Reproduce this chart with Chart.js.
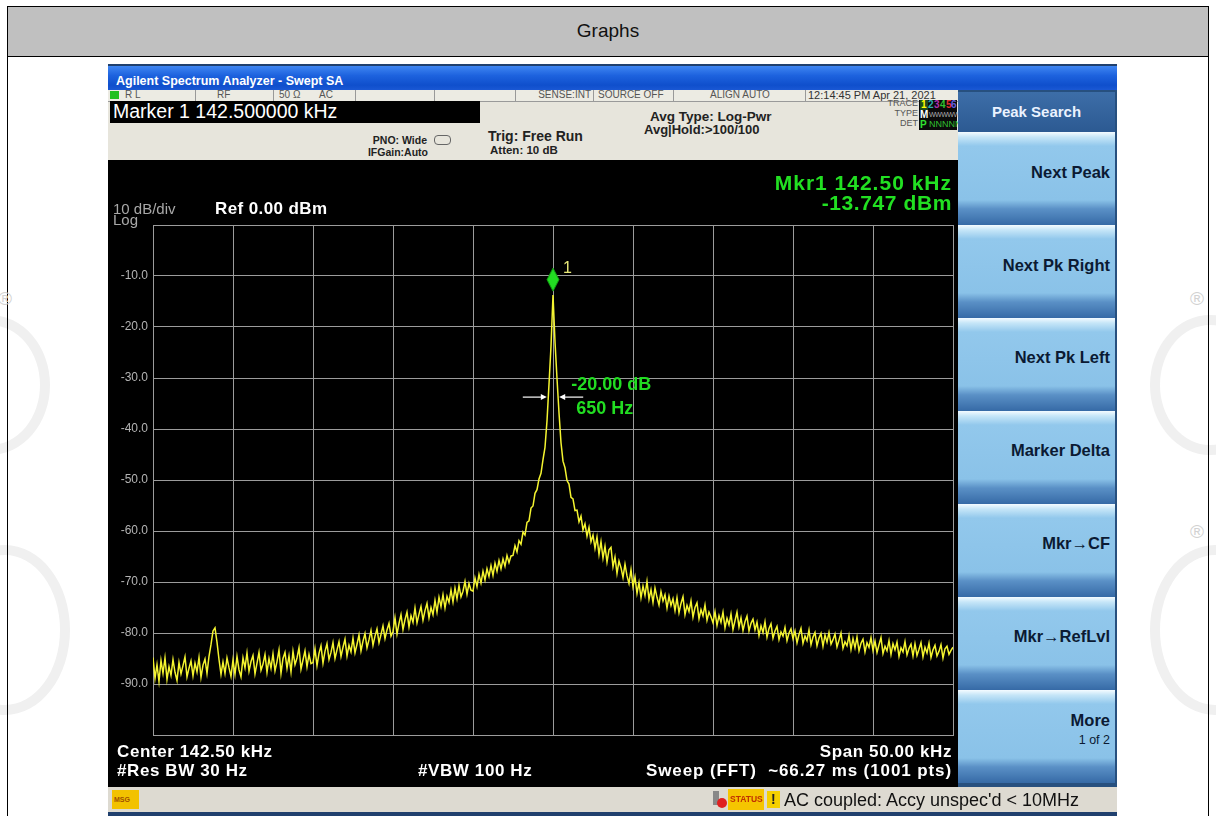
<!DOCTYPE html>
<html><head><meta charset="utf-8">
<script src="https://cdn.jsdelivr.net/npm/chart.js@4.4.1/dist/chart.umd.min.js"></script>
<style>
html,body{margin:0;padding:0;background:#fff;width:1216px;height:816px;overflow:hidden;font-family:"Liberation Sans",Arial,sans-serif;}
.a{position:absolute;}
.t{position:absolute;white-space:nowrap;line-height:1;}
.b{font-weight:bold;}
.r{text-align:right;}
.key{position:absolute;left:958px;width:157px;height:93px;background:linear-gradient(#f4fbff 0px,#c6e6f8 5px,#92c8ec 14px,#8ac2e8 68px,#5a90c6 77px,#366aa6 93px);}
.kt{position:absolute;right:5px;white-space:nowrap;line-height:1;font-weight:bold;font-size:16.5px;color:#0b1a33;}
.wm{position:absolute;color:#d2d2d2;font-size:19px;line-height:1;}
.arc{position:absolute;border:10px solid #f0f0f0;border-radius:50%;}
</style></head>
<body>
<!-- watermark -->
<div class="arc" style="left:-70px;top:315px;width:100px;height:120px;"></div>
<div class="arc" style="left:-60px;top:545px;width:110px;height:150px;"></div>
<div class="arc" style="left:1150px;top:315px;width:100px;height:120px;"></div>
<div class="arc" style="left:1150px;top:545px;width:110px;height:150px;"></div>
<!-- table frame -->
<div class="a" style="left:7px;top:6px;width:1200px;height:830px;border:1.5px solid #000;"></div>
<div class="a" style="left:8px;top:7px;width:1200px;height:49px;background:#c0c0c0;border-bottom:1.5px solid #000;"></div>
<div class="t" style="left:8px;width:1200px;top:21px;font-size:19px;text-align:center;color:#111;">Graphs</div>
<div class="wm" style="left:-2px;top:289px;">®</div>
<div class="wm" style="left:1190px;top:289px;">®</div>
<div class="wm" style="left:1190px;top:522px;">®</div>

<!-- analyzer frame -->
<div class="a" style="left:108px;top:64px;width:1009px;height:752px;background:#20406e;"></div>
<div class="a" style="left:108px;top:66px;width:1009px;height:24px;background:linear-gradient(#3f86f2,#1d62de 40%,#0f4fcc 80%,#1a58d4);"></div>
<div class="t b" style="left:116px;top:75px;font-size:12.5px;color:#fff;">Agilent Spectrum Analyzer - Swept SA</div>

<!-- info row -->
<div class="a" style="left:108px;top:90px;width:850px;height:11px;background:#ecebe3;border-bottom:1px solid #9a9a9a;"></div>
<div class="a" style="left:110px;top:91px;width:9px;height:8px;background:#20c020;"></div>
<div class="a" style="left:195px;top:90px;width:1px;height:11px;background:#999;"></div>
<div class="a" style="left:273px;top:90px;width:1px;height:11px;background:#999;"></div>
<div class="a" style="left:355px;top:90px;width:1px;height:11px;background:#999;"></div>
<div class="a" style="left:434px;top:90px;width:1px;height:11px;background:#999;"></div>
<div class="a" style="left:515px;top:90px;width:1px;height:11px;background:#999;"></div>
<div class="a" style="left:593px;top:90px;width:1px;height:11px;background:#999;"></div>
<div class="a" style="left:673px;top:90px;width:1px;height:11px;background:#999;"></div>
<div class="a" style="left:805px;top:90px;width:1px;height:11px;background:#999;"></div>
<div class="t" style="left:125px;top:90px;font-size:10px;color:#555;">R L</div>
<div class="t" style="left:217px;top:90px;font-size:10px;color:#555;">RF</div>
<div class="t" style="left:279px;top:90px;font-size:10px;color:#555;">50 Ω</div>
<div class="t" style="left:319px;top:90px;font-size:10px;color:#555;">AC</div>
<div class="t r" style="right:625px;top:90px;font-size:10px;color:#555;">SENSE:INT</div>
<div class="t" style="left:598px;top:90px;font-size:10px;color:#555;">SOURCE OFF</div>
<div class="t" style="left:710px;top:90px;font-size:10px;color:#555;">ALIGN AUTO</div>
<div class="t" style="left:808px;top:90px;font-size:11px;color:#333;">12:14:45 PM Apr 21, 2021</div>

<!-- gray settings panel -->
<div class="a" style="left:108px;top:102px;width:850px;height:58px;background:#e7e5dc;"></div>
<div class="a" style="left:110px;top:101px;width:370px;height:22px;background:#000;"></div>
<div class="t" style="left:113px;top:102px;font-size:19.5px;color:#fff;">Marker 1 142.500000 kHz</div>
<div class="t b r" style="right:789px;top:135px;font-size:10.5px;color:#222;">PNO: Wide</div>
<div class="a" style="left:434px;top:135px;width:15px;height:8px;border:1px solid #666;border-radius:4px;"></div>
<div class="t b r" style="right:788px;top:147px;font-size:10.5px;color:#222;">IFGain:Auto</div>
<div class="t b" style="left:488px;top:129px;font-size:14px;color:#222;">Trig: Free Run</div>
<div class="t b" style="left:490px;top:145px;font-size:11.5px;color:#222;">Atten: 10 dB</div>
<div class="t b" style="left:650px;top:110px;font-size:13.5px;color:#222;">Avg Type: Log-Pwr</div>
<div class="t b" style="left:644px;top:123px;font-size:13px;color:#222;">Avg|Hold:&gt;100/100</div>
<div class="a" style="left:919px;top:100px;width:38px;height:30px;background:#0a0a0a;"></div>
<div class="t r" style="right:298px;top:99px;font-size:9px;color:#555;">TRACE</div>
<div class="t r" style="right:298px;top:109px;font-size:9px;color:#555;">TYPE</div>
<div class="t r" style="right:298px;top:119px;font-size:9px;color:#555;">DET</div>
<div class="t b" style="left:920px;top:100px;font-size:10px;color:#ff0;background:#1d4a1d;padding:0 1px;">1</div>
<div class="t b" style="left:928px;top:100px;font-size:10px;color:#2ab0b0;">2</div>
<div class="t b" style="left:934px;top:100px;font-size:10px;color:#b030b0;">3</div>
<div class="t b" style="left:940px;top:100px;font-size:10px;color:#30c030;">4</div>
<div class="t b" style="left:946px;top:100px;font-size:10px;color:#e03030;">5</div>
<div class="t b" style="left:951px;top:100px;font-size:10px;color:#6060e0;">6</div>
<div class="t b" style="left:920px;top:110px;font-size:10px;color:#fff;">M</div>
<div class="t" style="left:929px;top:111px;font-size:7px;color:#aaa;letter-spacing:-0.5px;">WWWWW</div>
<div class="t b" style="left:920px;top:120px;font-size:10px;color:#30e030;">P</div>
<div class="t" style="left:929px;top:120px;font-size:9px;color:#30c030;">NNNNN</div>

<!-- plot black area -->
<div class="a" style="left:108px;top:160px;width:850px;height:627px;background:#000;"></div>
<canvas id="c" class="a" width="856" height="627" style="left:108px;top:160px;width:856px;height:627px;"></canvas>
<div class="t b r" style="right:264px;top:172px;font-size:21px;color:#22e022;letter-spacing:1px;">Mkr1 142.50 kHz</div>
<div class="t b r" style="right:264px;top:192px;font-size:21px;color:#22e022;letter-spacing:0.6px;">-13.747 dBm</div>
<div class="t" style="left:113px;top:201px;font-size:15px;color:#a8a8a8;">10 dB/div</div>
<div class="t" style="left:113px;top:212px;font-size:15px;color:#a8a8a8;">Log</div>
<div class="t b" style="left:215px;top:200px;font-size:17px;color:#fff;letter-spacing:0.4px;">Ref 0.00 dBm</div>
<div class="t b" style="left:117px;top:743px;font-size:17px;color:#fff;letter-spacing:0.6px;">Center 142.50 kHz</div>
<div class="t b" style="left:117px;top:762px;font-size:17px;color:#fff;letter-spacing:0.6px;">#Res BW 30 Hz</div>
<div class="t b" style="left:418px;top:762px;font-size:17px;color:#fff;letter-spacing:0.6px;">#VBW 100 Hz</div>
<div class="t b r" style="right:264px;top:743px;font-size:17px;color:#fff;letter-spacing:0.6px;">Span 50.00 kHz</div>
<div class="t b r" style="right:264px;top:762px;font-size:17px;color:#fff;letter-spacing:0.9px;">Sweep (FFT)&nbsp; ~66.27 ms (1001 pts)</div>

<!-- softkeys -->
<div class="a" style="left:958px;top:90px;width:159px;height:697px;background:#27507f;"></div>
<div class="a" style="left:958px;top:92px;width:157px;height:40px;background:linear-gradient(#3d6ea8,#2c5a92);"></div>
<div class="t b" style="left:958px;width:157px;top:104px;font-size:15px;color:#eaf2ff;text-align:center;">Peak Search</div>
<div class="key" style="top:132px;"><div class="kt" style="top:32px;">Next Peak</div></div>
<div class="key" style="top:225px;"><div class="kt" style="top:32px;">Next Pk Right</div></div>
<div class="key" style="top:318px;"><div class="kt" style="top:31px;">Next Pk Left</div></div>
<div class="key" style="top:411px;"><div class="kt" style="top:31px;">Marker Delta</div></div>
<div class="key" style="top:504px;"><div class="kt" style="top:31px;">Mkr→CF</div></div>
<div class="key" style="top:597px;"><div class="kt" style="top:31px;">Mkr→RefLvl</div></div>
<div class="key" style="top:690px;"><div class="kt" style="top:22px;">More</div><div class="kt" style="top:44px;font-weight:normal;font-size:12.5px;">1 of 2</div></div>

<!-- status bar -->
<div class="a" style="left:108px;top:787px;width:1009px;height:25px;background:#dddad1;"></div>
<div class="a" style="left:112px;top:790px;width:27px;height:19px;background:#f2c200;"></div>
<div class="t b" style="left:114px;top:796px;font-size:7px;color:#a05000;">MSG</div>
<div class="a" style="left:713px;top:791px;width:6px;height:14px;background:#888;"></div>
<div class="a" style="left:717px;top:798px;width:10px;height:10px;border-radius:50%;background:#e02020;"></div>
<div class="a" style="left:728px;top:789px;width:36px;height:21px;background:#f5c500;"></div>
<div class="t b" style="left:730px;top:795px;font-size:8.5px;color:#c03000;">STATUS</div>
<div class="a" style="left:767px;top:791px;width:13px;height:17px;background:#f5d000;"></div>
<div class="t b" style="left:771px;top:792px;font-size:14px;color:#222;">!</div>
<div class="t" style="left:784px;top:791px;font-size:18px;color:#111;">AC coupled: Accy unspec'd &lt; 10MHz</div>

<script>
// ---- data ----
const centerKHz = 142.5;
const spanKHz = 50;
const startKHz = 117.5;
const stepKHz = 0.125;
const gridFreqsKHz = [117.5,122.5,127.5,132.5,137.5,142.5,147.5,152.5,157.5,162.5,167.5];
const refLevel = 0;
const dbPerDiv = 10;
const markerFreqKHz = 142.5;
const markerLevel = -13.747;
const ndbDown = -20;
const ndbBwKHz = 0.65;
const traceLevels = [
-84.8,-88.9,-86.2,-89.5,-85.4,-87.9,-84.9,-89.1,-86.6,-88.3,-85.2,-87.7,-89.3,-85.8,-88.0,-86.4,-84.7,-88.6,-86.9,-85.5,
-88.4,-85.9,-87.6,-84.8,-88.7,-86.3,-85.1,-87.9,-84.6,-82.3,-79.6,-79.0,-81.8,-85.2,-88.1,-85.7,-87.9,-84.9,-86.8,-88.5,
-85.3,-88.1,-84.6,-87.2,-88.6,-84.9,-86.8,-83.9,-87.5,-85.6,-84.4,-88.0,-85.9,-83.8,-87.3,-86.1,-84.2,-87.7,-85.0,-86.9,
-84.1,-87.4,-85.6,-83.3,-87.9,-85.0,-83.8,-86.9,-84.5,-87.6,-83.6,-86.2,-84.9,-82.9,-87.1,-85.3,-83.5,-86.6,-84.2,-86.0,
-85.8,-83.1,-86.4,-84.0,-82.5,-85.9,-83.6,-82.1,-85.2,-83.8,-81.9,-85.0,-83.3,-81.7,-84.6,-82.8,-81.2,-84.5,-82.4,-83.7,
-81.0,-83.9,-82.2,-80.4,-83.5,-81.6,-80.1,-82.9,-81.3,-79.5,-82.4,-80.6,-79.2,-81.9,-80.3,-78.6,-81.1,-79.4,-78.1,-80.6,
-79.7,-77.0,-80.2,-78.1,-76.4,-79.3,-77.4,-75.9,-78.8,-76.6,-77.9,-75.1,-78.0,-76.3,-74.8,-77.5,-75.6,-74.2,-77.0,-75.0,
-76.4,-73.6,-75.9,-73.0,-74.8,-72.5,-75.1,-72.8,-74.0,-71.6,-73.9,-71.2,-73.3,-70.7,-72.9,-71.8,-69.9,-72.4,-70.3,-71.6,
-71.8,-69.2,-70.9,-68.5,-70.2,-67.9,-69.6,-67.4,-68.9,-66.8,-68.7,-66.3,-67.9,-65.8,-67.4,-65.5,-66.9,-64.8,-66.2,-64.9,
-64.8,-62.9,-64.1,-61.9,-62.6,-60.2,-60.8,-58.3,-58.0,-55.5,-55.1,-52.6,-51.9,-49.8,-48.7,-46.0,-43.6,-38.4,-31.2,-23.8,
-13.747,
-22.9,-30.1,-36.8,-42.7,-46.3,-47.6,-50.1,-50.8,-53.4,-53.7,-56.0,-55.9,-58.2,-57.1,-59.8,-58.6,-61.0,-59.3,-62.1,-60.8,
-63.4,-61.2,-64.6,-62.1,-65.3,-63.0,-66.1,-63.7,-63.2,-67.0,-65.1,-68.3,-65.9,-67.2,-69.1,-66.5,-68.8,-70.3,-67.6,-70.9,
-69.0,-72.2,-70.1,-73.1,-70.8,-72.6,-69.9,-73.4,-71.5,-74.0,-71.2,-73.0,-74.5,-71.9,-73.7,-72.5,-75.1,-72.8,-74.6,-73.3,
-75.6,-73.1,-76.0,-74.2,-72.9,-76.4,-74.6,-75.8,-73.7,-76.9,-75.0,-74.1,-77.2,-75.4,-76.6,-74.5,-77.5,-75.9,-76.8,-78.0,
-75.8,-78.5,-76.6,-77.9,-75.9,-79.0,-77.1,-78.4,-76.3,-79.3,-77.6,-75.9,-78.8,-77.0,-79.5,-77.8,-76.7,-79.6,-78.1,-77.3,
-79.4,-77.9,-80.5,-78.6,-79.9,-77.8,-80.8,-79.1,-78.2,-81.0,-79.6,-78.7,-81.3,-79.8,-80.6,-78.9,-81.5,-80.0,-79.2,-81.1,
-79.6,-81.9,-80.3,-79.1,-82.0,-80.6,-81.5,-79.4,-82.3,-80.8,-79.9,-82.5,-81.0,-80.1,-82.6,-80.4,-81.8,-79.9,-82.2,-81.3,
-80.2,-82.7,-81.4,-80.0,-83.0,-81.7,-82.5,-80.5,-83.2,-81.1,-82.9,-80.8,-83.5,-82.0,-81.2,-83.7,-81.9,-82.8,-80.9,-83.4,
-81.6,-83.8,-82.3,-80.9,-84.0,-82.6,-83.5,-81.5,-84.2,-82.1,-83.3,-81.8,-84.6,-82.9,-83.7,-81.7,-84.3,-83.0,-82.2,-84.5,
-82.1,-84.4,-83.2,-81.9,-84.7,-82.8,-83.9,-82.0,-84.8,-83.3,-82.4,-84.5,-83.6,-82.3,-84.9,-83.1,-82.6,-84.2,-83.4,-82.8
];

// ---- build ----
const tracePts = traceLevels.map((v, i) => ({x: startKHz + i * stepKHz, y: v}));
const gridColor = '#9c9c9c';

const dia = document.createElement('canvas');
dia.width = 14; dia.height = 56;
(function(){
  const g = dia.getContext('2d');
  g.beginPath(); g.moveTo(7,1); g.lineTo(13,12.5); g.lineTo(7,24); g.lineTo(1,12.5); g.closePath();
  g.fillStyle = '#22dd22'; g.fill();
  g.strokeStyle = '#119911'; g.lineWidth = 1; g.stroke();
})();

const annot = {
  id: 'annot',
  afterDatasetsDraw(chart) {
    const c = chart.ctx, xs = chart.scales.x, ys = chart.scales.y;
    const px = xs.getPixelForValue(markerFreqKHz), py = ys.getPixelForValue(markerLevel);
    c.save();
    c.fillStyle = '#e8e878';
    c.font = '16px "Liberation Sans", Arial';
    c.textBaseline = 'middle';
    c.fillText('1', px + 10, py - 27);
    const lvl = ys.getPixelForValue(markerLevel + ndbDown);
    const xl = xs.getPixelForValue(markerFreqKHz - ndbBwKHz / 2) - 1;
    const xr = xs.getPixelForValue(markerFreqKHz + ndbBwKHz / 2) + 1;
    c.strokeStyle = '#ffffff'; c.fillStyle = '#ffffff'; c.lineWidth = 1.2;
    c.beginPath(); c.moveTo(xl - 24, lvl); c.lineTo(xl - 4, lvl); c.stroke();
    c.beginPath(); c.moveTo(xl, lvl); c.lineTo(xl - 6, lvl - 3); c.lineTo(xl - 6, lvl + 3); c.closePath(); c.fill();
    c.beginPath(); c.moveTo(xr + 24, lvl); c.lineTo(xr + 4, lvl); c.stroke();
    c.beginPath(); c.moveTo(xr, lvl); c.lineTo(xr + 6, lvl - 3); c.lineTo(xr + 6, lvl + 3); c.closePath(); c.fill();
    c.fillStyle = '#22dd22';
    c.font = 'bold 18px "Liberation Sans", Arial';
    c.fillText(ndbDown.toFixed(2) + ' dB', xr + 12, lvl - 12);
    c.fillText(Math.round(ndbBwKHz * 1000) + ' Hz', xr + 17, lvl + 12);
    c.restore();
  }
};

new Chart(document.getElementById('c'), {
  type: 'scatter',
  data: { datasets: [
    { data: tracePts, showLine: true, borderColor: '#f4f430', borderWidth: 1.5, pointRadius: 0, order: 2 },
    { data: [{x: markerFreqKHz, y: markerLevel}], pointStyle: dia, pointRadius: 10, order: 1 }
  ]},
  options: {
    responsive: false, animation: false, events: [],
    plugins: { legend: { display: false }, tooltip: { enabled: false } },
    layout: { padding: { left: 0, top: 65, right: 5, bottom: 52 } },
    scales: {
      x: {
        type: 'linear', min: centerKHz - spanKHz / 2, max: centerKHz + spanKHz / 2,
        ticks: { display: false },
        grid: { color: gridColor, drawTicks: false },
        border: { color: gridColor },
        afterBuildTicks: s => { s.ticks = gridFreqsKHz.map(v => ({ value: v })); },
        afterFit: s => { s.height = 0; s.paddingLeft = 0; s.paddingRight = 0; }
      },
      y: {
        min: refLevel - 10 * dbPerDiv, max: refLevel,
        ticks: { stepSize: dbPerDiv, color: '#b4b4b4', padding: 5,
          font: { size: 12, family: '"Liberation Sans", Arial' },
          callback: v => (v === refLevel || v === refLevel - 10 * dbPerDiv) ? '' : v.toFixed(1) },
        grid: { color: gridColor, drawTicks: false },
        border: { color: gridColor },
        afterFit: s => { s.width = 45; s.paddingTop = 0; s.paddingBottom = 0; }
      }
    }
  },
  plugins: [annot]
});
</script>
</body></html>
